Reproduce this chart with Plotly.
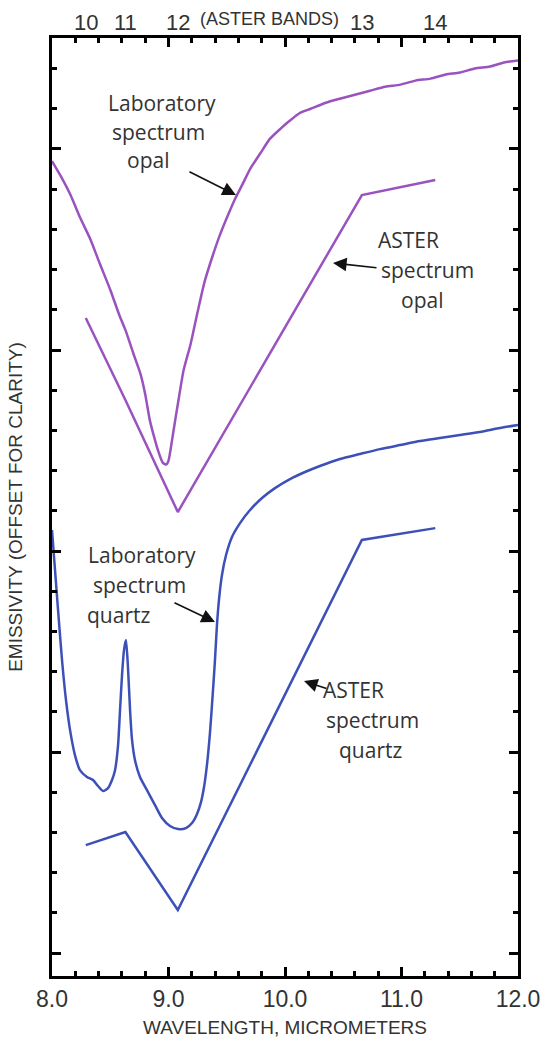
import plotly.graph_objects as go

# Laboratory emissivity spectra (offset for clarity), wavelength in micrometers
opal_lab_wl = [8.00, 8.08, 8.16, 8.24, 8.33, 8.41, 8.50, 8.58, 8.63, 8.70, 8.76, 8.80,
               8.84, 8.88, 8.91, 8.95, 8.98, 9.00, 9.03, 9.06, 9.08, 9.13, 9.19, 9.25,
               9.31, 9.38, 9.44, 9.51, 9.57, 9.64, 9.70, 9.79, 9.87, 9.96, 10.04, 10.13,
               10.22, 10.35, 10.47, 10.60, 10.73, 10.86, 10.99, 11.12, 11.25, 11.38,
               11.50, 11.63, 11.76, 11.88, 12.00]
opal_lab_em = [3.94, 3.86, 3.77, 3.66, 3.55, 3.43, 3.30, 3.17, 3.10, 2.98, 2.88, 2.78,
               2.65, 2.56, 2.50, 2.44, 2.43, 2.45, 2.55, 2.66, 2.73, 2.90, 3.03, 3.19,
               3.34, 3.47, 3.57, 3.67, 3.75, 3.83, 3.90, 3.98, 4.05, 4.10, 4.14, 4.18,
               4.20, 4.23, 4.25, 4.27, 4.29, 4.31, 4.32, 4.34, 4.35, 4.37,
               4.38, 4.40, 4.41, 4.43, 4.44]

quartz_lab_wl = [8.000, 8.026, 8.052, 8.086, 8.120, 8.155, 8.197, 8.240, 8.300, 8.352,
                 8.395, 8.438, 8.481, 8.515, 8.541, 8.567, 8.584, 8.601, 8.618, 8.635,
                 8.652, 8.670, 8.687, 8.712, 8.755, 8.815, 8.884, 8.944, 9.013, 9.082,
                 9.150, 9.202, 9.245, 9.279, 9.305, 9.330, 9.356, 9.382, 9.399, 9.416,
                 9.433, 9.459, 9.494, 9.545, 9.614, 9.700, 9.803, 9.914, 10.043, 10.172,
                 10.300, 10.472, 10.644, 10.815, 10.987, 11.159, 11.330, 11.502, 11.674,
                 11.845, 12.000]
quartz_lab_em = [2.104, 1.905, 1.706, 1.458, 1.259, 1.109, 0.985, 0.910, 0.876, 0.861,
                 0.831, 0.806, 0.821, 0.861, 0.910, 1.035, 1.209, 1.383, 1.507, 1.557,
                 1.423, 1.209, 1.060, 0.960, 0.876, 0.811, 0.736, 0.672, 0.632, 0.617,
                 0.622, 0.647, 0.692, 0.751, 0.826, 0.935, 1.095, 1.308, 1.458, 1.632,
                 1.756, 1.881, 1.980, 2.070, 2.139, 2.204, 2.264, 2.313, 2.358, 2.393,
                 2.423, 2.458, 2.483, 2.507, 2.527, 2.547, 2.562, 2.577, 2.592,
                 2.612, 2.627]

# ASTER TIR band centers (bands 10-14) and resampled spectra
aster_bands = ["10", "11", "12", "13", "14"]
aster_wl = [8.29, 8.63, 9.08, 10.66, 11.29]
opal_aster_em = [3.159, 2.751, 2.194, 3.771, 3.846]
quartz_aster_em = [0.537, 0.602, 0.214, 2.055, 2.114]

OPAL = "#9a52bf"
QUARTZ = "#3d50b8"
TEXT = "#333333"
LABEL_FONT = "Open Sans"
AXIS_FONT = "Liberation Sans, Arial"

fig = go.Figure()
fig.add_trace(go.Scatter(x=opal_lab_wl, y=opal_lab_em, mode="lines",
                         line=dict(color=OPAL, width=2.5, shape="spline", smoothing=0.6)))
fig.add_trace(go.Scatter(x=aster_wl, y=opal_aster_em, mode="lines",
                         line=dict(color=OPAL, width=2.5)))
fig.add_trace(go.Scatter(x=quartz_lab_wl, y=quartz_lab_em, mode="lines",
                         line=dict(color=QUARTZ, width=2.5, shape="spline", smoothing=0.6)))
fig.add_trace(go.Scatter(x=aster_wl, y=quartz_aster_em, mode="lines",
                         line=dict(color=QUARTZ, width=2.5)))

annotations = []

# ASTER band numbers along the top
for name, wl in zip(aster_bands, aster_wl):
    annotations.append(dict(x=wl, y=1.0, xref="x", yref="paper", yanchor="middle",
                            yshift=16, text=name, showarrow=False,
                            font=dict(family=AXIS_FONT, size=22, color=TEXT)))
annotations.append(dict(x=9.87, y=1.0, xref="x", yref="paper", yanchor="middle",
                        yshift=19, text="(ASTER BANDS)", showarrow=False,
                        font=dict(family=AXIS_FONT, size=18, color=TEXT)))

# Curve labels, one line per annotation
labels = [
    ("Laboratory", 8.944, 4.229), ("spectrum", 8.918, 4.085), ("opal", 8.824, 3.945),
    ("ASTER", 11.064, 3.547), ("spectrum", 11.227, 3.398), ("opal", 11.176, 3.249),
    ("Laboratory", 8.773, 1.980), ("spectrum", 8.747, 1.831), ("quartz", 8.567, 1.682),
    ("ASTER", 10.590, 1.308), ("spectrum", 10.747, 1.159), ("quartz", 10.730, 1.010),
]
for txt, x, y in labels:
    annotations.append(dict(x=x, y=y, xref="x", yref="y", text=txt, showarrow=False,
                            font=dict(family=LABEL_FONT, size=21, color=TEXT)))

# Pointer arrows (head at the curve, tail offset in pixels)
arrows = [
    (9.579, 3.771, -48, -24),
    (10.412, 3.433, 45, 5),
    (9.399, 1.647, -42, -20),
    (10.163, 1.353, 24, 8),
]
for x, y, ax, ay in arrows:
    annotations.append(dict(x=x, y=y, xref="x", yref="y", ax=ax, ay=ay, text="",
                            showarrow=True, arrowhead=2, arrowsize=1.7,
                            arrowwidth=1.6, arrowcolor="#111111"))

fig.update_layout(
    width=544, height=1048,
    margin=dict(l=52, r=26, t=38, b=72, autoexpand=False),
    paper_bgcolor="white", plot_bgcolor="white",
    showlegend=False,
    annotations=annotations,
)

fig.update_xaxes(
    range=[8, 12], tickmode="linear", tick0=8, dtick=1, tickformat=".1f",
    ticks="inside", ticklen=9, tickwidth=3, tickcolor="black",
    showline=True, linewidth=3, linecolor="black", mirror="ticks",
    minor=dict(tick0=8, dtick=0.2, ticks="inside", ticklen=5, tickwidth=2.5,
               tickcolor="black"),
    showgrid=False, zeroline=False, automargin=False,
    tickfont=dict(family=AXIS_FONT, size=23, color=TEXT),
    title=dict(text="WAVELENGTH, MICROMETERS", standoff=11,
               font=dict(family=AXIS_FONT, size=19, color=TEXT)),
)
fig.update_yaxes(
    range=[-0.114, 4.552], tickmode="linear", tick0=0, dtick=1,
    ticks="inside", ticklen=9, tickwidth=3, tickcolor="black",
    showline=True, linewidth=3, linecolor="black", mirror="ticks",
    minor=dict(tick0=0, dtick=0.2, ticks="inside", ticklen=5, tickwidth=2.5,
               tickcolor="black"),
    showgrid=False, zeroline=False, showticklabels=False, automargin=False,
    title=dict(text="EMISSIVITY (OFFSET FOR CLARITY)", standoff=22,
               font=dict(family=AXIS_FONT, size=19, color=TEXT)),
)

fig.write_html("out.html")
